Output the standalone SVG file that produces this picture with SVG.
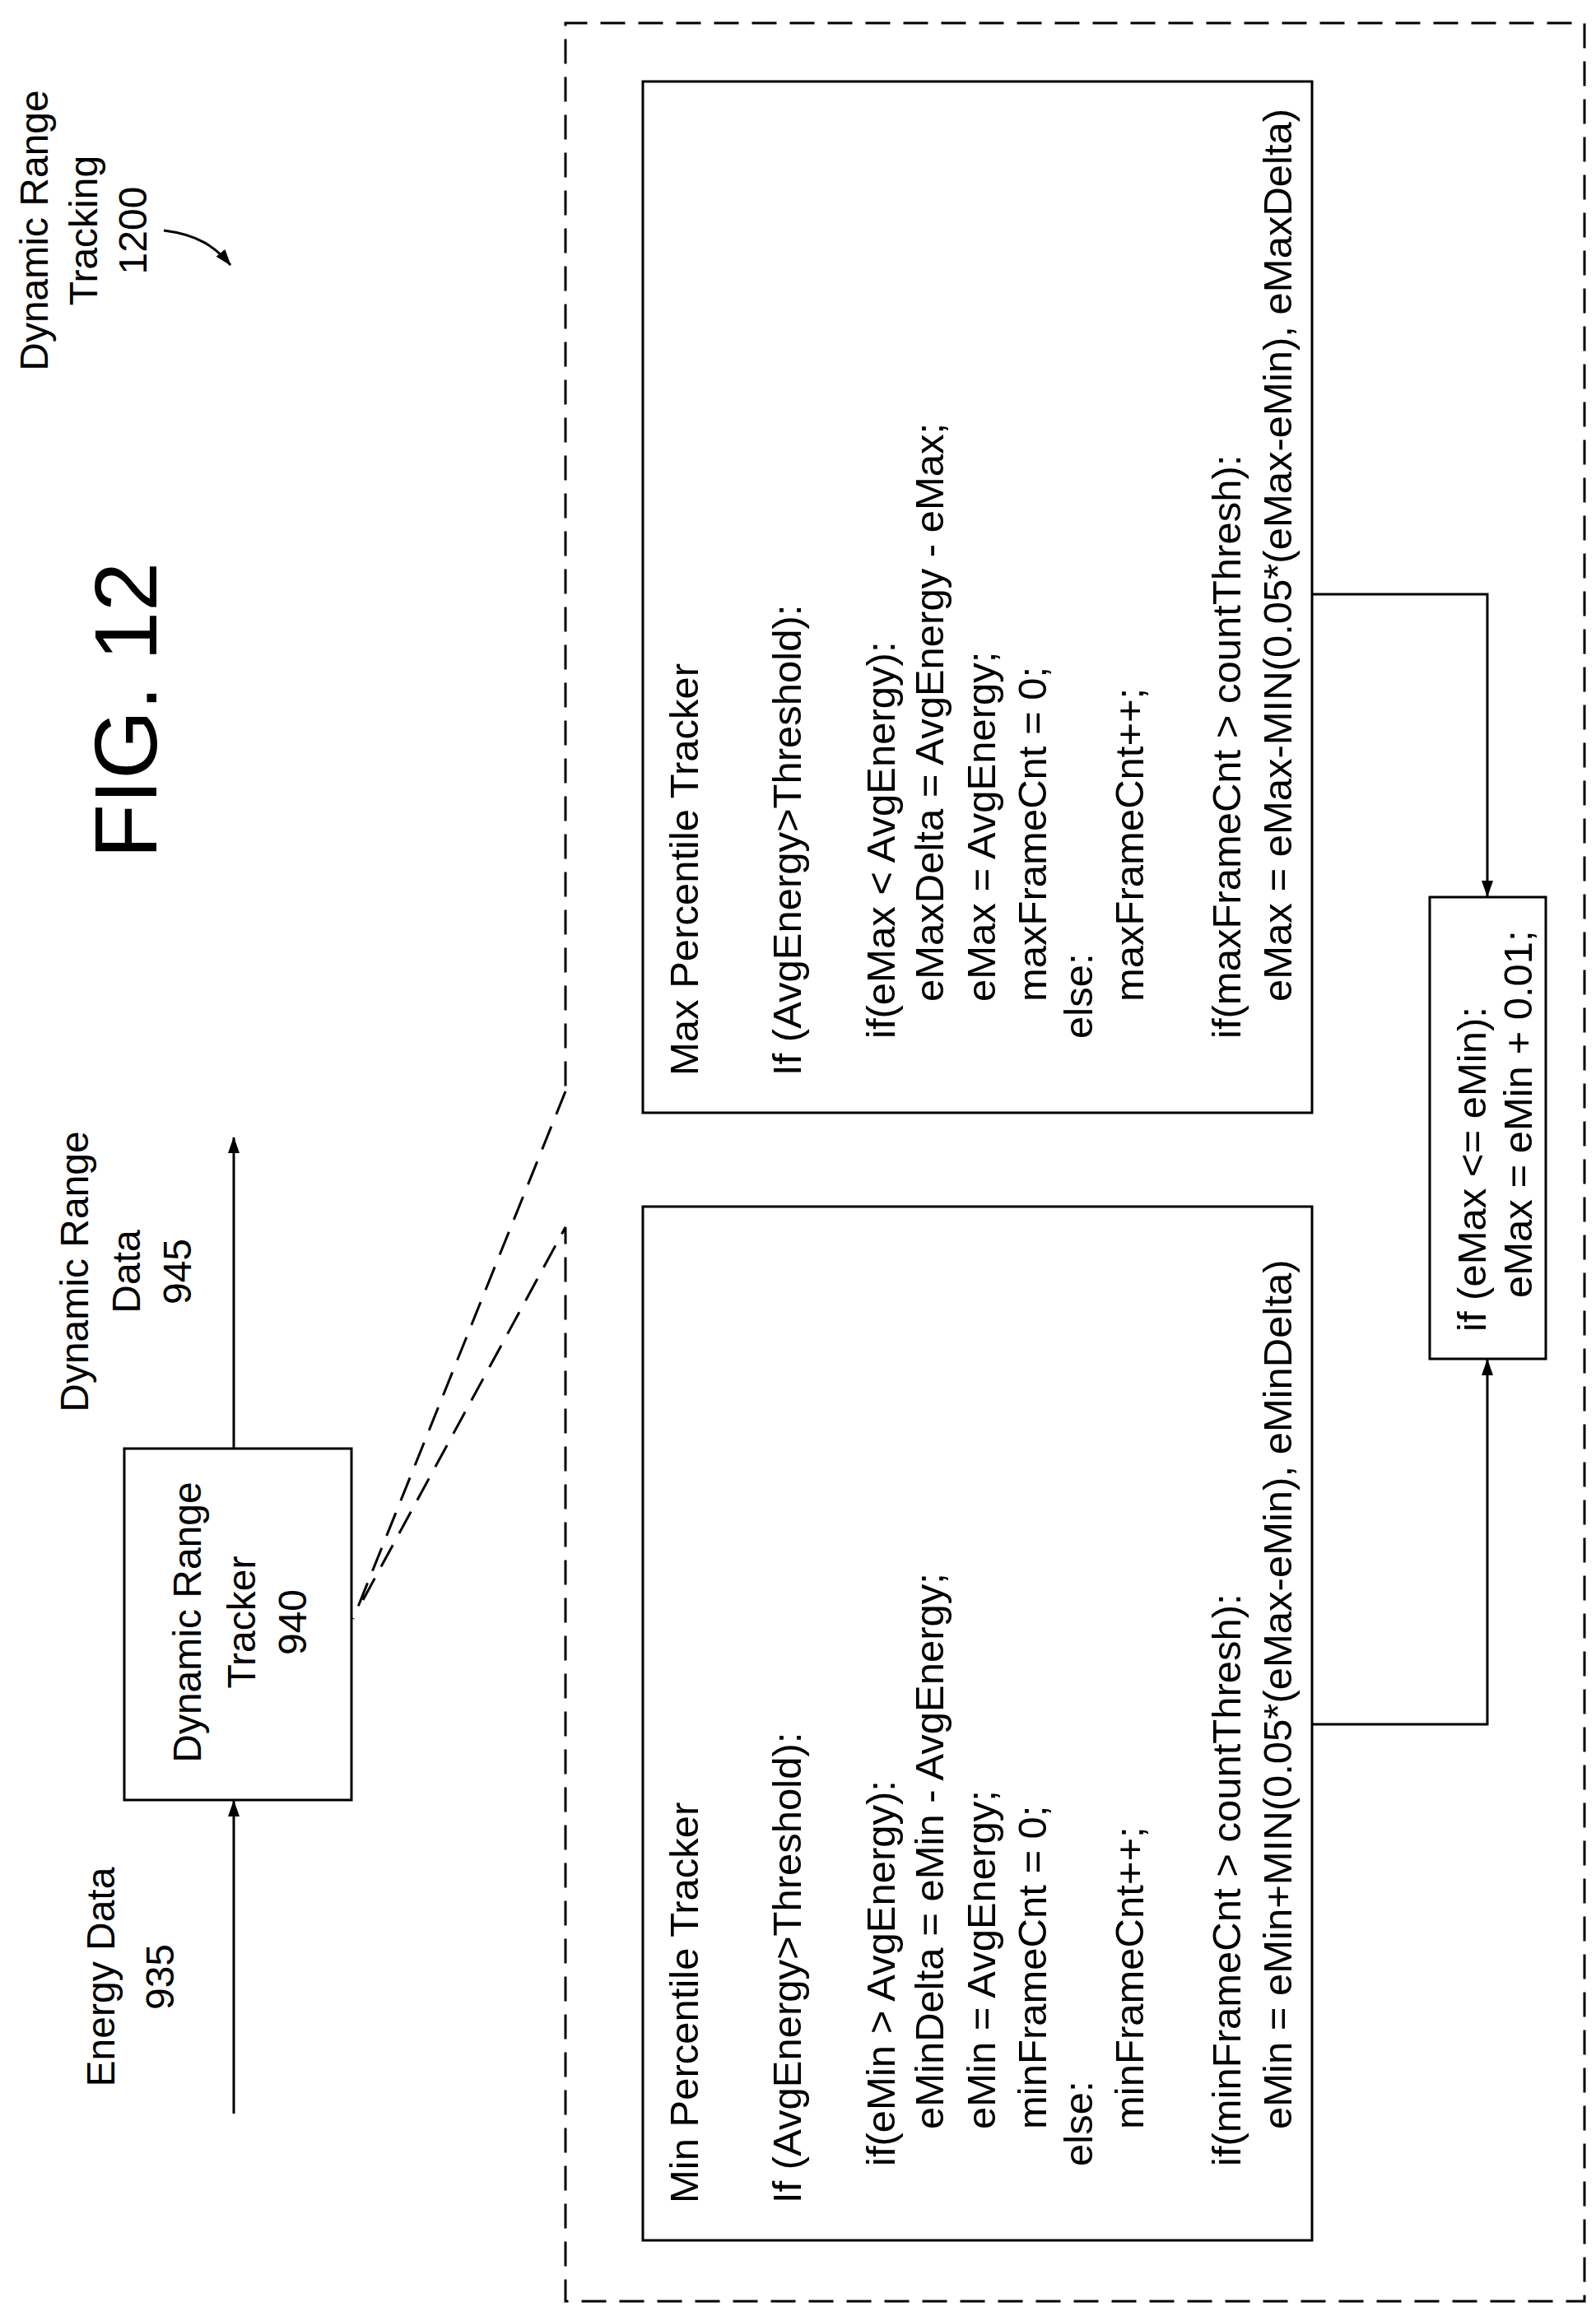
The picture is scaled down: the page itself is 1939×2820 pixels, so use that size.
<svg xmlns="http://www.w3.org/2000/svg" width="1939" height="2820" viewBox="0 0 1939 2820">
<style>
text{font-family:"Liberation Sans",Arial,sans-serif;fill:#000}
.c{font-size:49px}
.l{font-size:48px}
.fig{font-size:108px}
.box{fill:#fff;stroke:#000;stroke-width:3}
.ln{fill:none;stroke:#000;stroke-width:3}
.d{fill:none;stroke:#000;stroke-width:3;stroke-dasharray:30 16}
</style>
<defs>
<marker id="ah" viewBox="0 0 20 20" refX="19" refY="10" markerWidth="20" markerHeight="20" markerUnits="userSpaceOnUse" orient="auto"><path d="M0,3 L20,10 L0,17 Z" fill="#000"/></marker>
</defs>
<rect width="1939" height="2820" fill="#fff"/>
<g id="boundary"><path class="d" d="M687,1326 L429,1967 M441,1944 L687,1491 L687,2796 L1925,2796 L1925,28 L687,28 L687,1326"/></g>
<g id="labels">
<text class="fig" text-anchor="middle" transform="translate(190,863) rotate(-90)">FIG. 12</text>
<g transform="translate(0,280) rotate(-90)" text-anchor="middle"><text class="l" x="0" y="58">Dynamic Range</text><text class="l" x="0" y="118">Tracking</text><text class="l" x="0" y="178">1200</text></g>
<g transform="translate(0,1545) rotate(-90)" text-anchor="middle"><text class="l" x="0" y="107">Dynamic Range</text><text class="l" x="0" y="170">Data</text><text class="l" x="0" y="232">945</text></g>
<g transform="translate(0,2402) rotate(-90)" text-anchor="middle"><text class="l" x="0" y="139">Energy Data</text><text class="l" x="0" y="211">935</text></g>
</g>
<g id="tracker"><rect class="box" x="151" y="1760" width="276" height="427"/>
<g transform="translate(0,1971) rotate(-90)" text-anchor="middle"><text class="l" x="0" y="244">Dynamic Range</text><text class="l" x="0" y="310">Tracker</text><text class="l" x="0" y="372">940</text></g></g>
<g id="max"><rect class="box" x="781" y="99" width="813" height="1253"/>
<g transform="translate(0,1307) rotate(-90)" class="c">
<text x="0" y="848">Max Percentile Tracker</text>
<text x="0" y="973">If (AvgEnergy&gt;Threshold):</text>
<text x="45" y="1087">if(eMax &lt; AvgEnergy):</text>
<text x="90" y="1146">eMaxDelta = AvgEnergy - eMax;</text>
<text x="90" y="1209">eMax = AvgEnergy;</text>
<text x="90" y="1271">maxFrameCnt = 0;</text>
<text x="45" y="1327">else:</text>
<text x="90" y="1389">maxFrameCnt++;</text>
<text x="45" y="1507">if(maxFrameCnt &gt; countThresh):</text>
<text x="90" y="1569">eMax = eMax-MIN(0.05*(eMax-eMin), eMaxDelta)</text>
</g></g>
<g id="min"><rect class="box" x="781" y="1466" width="813" height="1256"/>
<g transform="translate(0,2677) rotate(-90)" class="c">
<text x="0" y="848">Min Percentile Tracker</text>
<text x="0" y="973">If (AvgEnergy&gt;Threshold):</text>
<text x="45" y="1087">if(eMin &gt; AvgEnergy):</text>
<text x="90" y="1146">eMinDelta = eMin - AvgEnergy;</text>
<text x="90" y="1209">eMin = AvgEnergy;</text>
<text x="90" y="1271">minFrameCnt = 0;</text>
<text x="45" y="1327">else:</text>
<text x="90" y="1389">minFrameCnt++;</text>
<text x="45" y="1507">if(minFrameCnt &gt; countThresh):</text>
<text x="90" y="1569">eMin = eMin+MIN(0.05*(eMax-eMin), eMinDelta)</text>
</g></g>
<g id="check"><rect class="box" x="1737" y="1090" width="141" height="561"/>
<g transform="translate(0,1618) rotate(-90)" class="c">
<text x="0" y="1805">if (eMax &lt;= eMin):</text>
<text x="41" y="1861">eMax = eMin + 0.01;</text>
</g></g>
<g id="connectors">
<path class="ln" d="M284,2568 L284,2188" marker-end="url(#ah)"/>
<path class="ln" d="M284,1760 L284,1382" marker-end="url(#ah)"/>
<path class="ln" d="M1594,722 L1807,722 L1807,1089" marker-end="url(#ah)"/>
<path class="ln" d="M1594,2095 L1807,2095 L1807,1652" marker-end="url(#ah)"/>
<path class="ln" d="M199,280 C240,285 262,300 280,322" marker-end="url(#ah)"/>
</g>
</svg>
